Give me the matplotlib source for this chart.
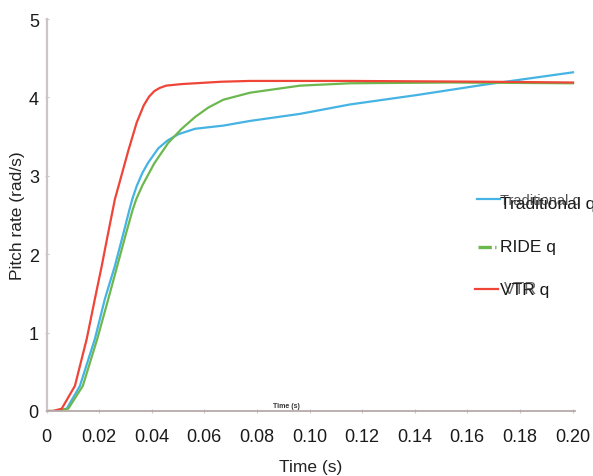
import matplotlib
matplotlib.use("Agg")
import matplotlib.pyplot as plt
from matplotlib.lines import Line2D

plt.rcParams['font.family'] = ['Liberation Sans', 'DejaVu Sans']

# Time samples (s) and pitch-rate responses (rad/s)
t_trad = [0.0, 0.0029, 0.0077, 0.0127, 0.0184, 0.0222, 0.0260, 0.0292, 0.0314, 0.0326,
          0.0343, 0.0365, 0.0387, 0.0425, 0.0460, 0.0501, 0.0565, 0.0672, 0.0774, 0.0964,
          0.1154, 0.1408, 0.1661, 0.2002]
q_trad = [0.0, 0.0, 0.03, 0.32, 0.92, 1.43, 1.85, 2.26, 2.55, 2.70,
          2.87, 3.04, 3.17, 3.35, 3.45, 3.53, 3.60, 3.64, 3.70, 3.79,
          3.91, 4.03, 4.16, 4.32]

t_ride = [0.0, 0.0040, 0.0083, 0.0138, 0.0193, 0.0235, 0.0269, 0.0302, 0.0327, 0.0341,
          0.0365, 0.0410, 0.0463, 0.0514, 0.0565, 0.0615, 0.0672, 0.0774, 0.0964,
          0.1154, 0.1534, 0.2002]
q_ride = [0.0, 0.0, 0.03, 0.32, 0.92, 1.43, 1.85, 2.26, 2.56, 2.70,
          2.88, 3.16, 3.42, 3.60, 3.75, 3.87, 3.97, 4.06, 4.15,
          4.18, 4.19, 4.18]

t_vtr = [0.0, 0.0025, 0.0058, 0.0108, 0.0153, 0.0184, 0.0210, 0.0235, 0.0260, 0.0279,
         0.0311, 0.0343, 0.0370, 0.0390, 0.0410, 0.0430, 0.0455, 0.0514, 0.0666, 0.0774,
         0.1154, 0.1660, 0.2002]
q_vtr = [0.0, 0.0, 0.03, 0.32, 0.92, 1.43, 1.85, 2.28, 2.70, 2.93,
         3.32, 3.68, 3.90, 4.01, 4.08, 4.12, 4.15, 4.17, 4.20, 4.21,
         4.21, 4.20, 4.19]

x_ticks = [0.0, 0.02, 0.04, 0.06, 0.08, 0.10, 0.12, 0.14, 0.16, 0.18, 0.20]
x_tick_labels = ['0', '0.02', '0.04', '0.06', '0.08', '0.10', '0.12', '0.14',
                 '0.16', '0.18', '0.20']
y_ticks = [0, 1, 2, 3, 4, 5]
series_names = ['Traditional q', 'RIDE q', 'VTR q']

c_trad = '#45b3e3'
c_ride = '#6cb84e'
c_vtr = '#ef4438'

W, H = 593, 477
fig = plt.figure(figsize=(W / 100, H / 100), dpi=100)
ax = fig.add_axes([46.5 / W, 65 / H, 528.5 / W, 392 / H])

ax.plot(t_trad, q_trad, color=c_trad, lw=1.6, solid_joinstyle='round')
ax.plot(t_ride, q_ride, color=c_ride, lw=1.6, solid_joinstyle='round')
ax.plot(t_vtr, q_vtr, color=c_vtr, lw=1.6, solid_joinstyle='round')

ax.set_xlim(0, 0.20095)
ax.set_ylim(0, 5)
ax.set_xticks(x_ticks)
ax.set_xticklabels(x_tick_labels)
ax.set_yticks(y_ticks)

for s in ('top', 'right'):
    ax.spines[s].set_visible(False)
ax.spines['left'].set_color('#cdc4c4')
ax.spines['left'].set_linewidth(1.6)
ax.spines['bottom'].set_color('#b7a9a9')
ax.spines['bottom'].set_linewidth(1.3)

ax.tick_params(axis='x', length=3, width=0.8, color='#d0c6c6', direction='inout',
               pad=11, labelsize=13, labelcolor='#1a1a1a')
ax.tick_params(axis='y', length=3, width=0.8, color='#d0c6c6', direction='inout',
               pad=4, labelsize=13, labelcolor='#1a1a1a')

ax.set_xlabel('Time (s)', fontsize=12.5, color='#222222', labelpad=10)
ax.set_ylabel('Pitch rate (rad/s)', fontsize=12.5, color='#222222', labelpad=3)

# small axis caption drawn inside the plot area
ax.text(0.0912, 0.07, 'Time (s)', fontsize=5, fontweight='bold', color='#333333',
        ha='center', va='center')

# legend keys and labels placed at the right of the plot
def fx(px):
    return px / W

def fy(py):
    return 1 - py / H

key_styles = [
    dict(color=c_trad, lw=1.6, y=200, x0=477, x1=500, text_y=205),
    dict(color=c_ride, lw=2.4, y=248, x0=478, x1=496, text_y=248, ls=(0, (4, 1))),
    dict(color=c_vtr, lw=1.6, y=290, x0=475, x1=498, text_y=291),
]
for name, st in zip(series_names, key_styles):
    fig.add_artist(Line2D([fx(st['x0']), fx(st['x1'])], [fy(st['y']), fy(st['y'])],
                          transform=fig.transFigure, color=st['color'], lw=st['lw'],
                          ls=st.get('ls', '-')))
    fig.text(fx(500), fy(st['text_y']), name, fontsize=12.5, color='#1a1a1a',
             ha='left', va='center')

# overprinted labels on top of the legend entries
fig.text(fx(500), fy(201), series_names[0], fontsize=10.5, color='#333333',
         ha='left', va='center', alpha=0.85)
fig.text(fx(504), fy(290), series_names[2].split()[0], fontsize=12, color='#333333',
         ha='left', va='center', alpha=0.75)

fig.savefig('out.png', dpi=100)
